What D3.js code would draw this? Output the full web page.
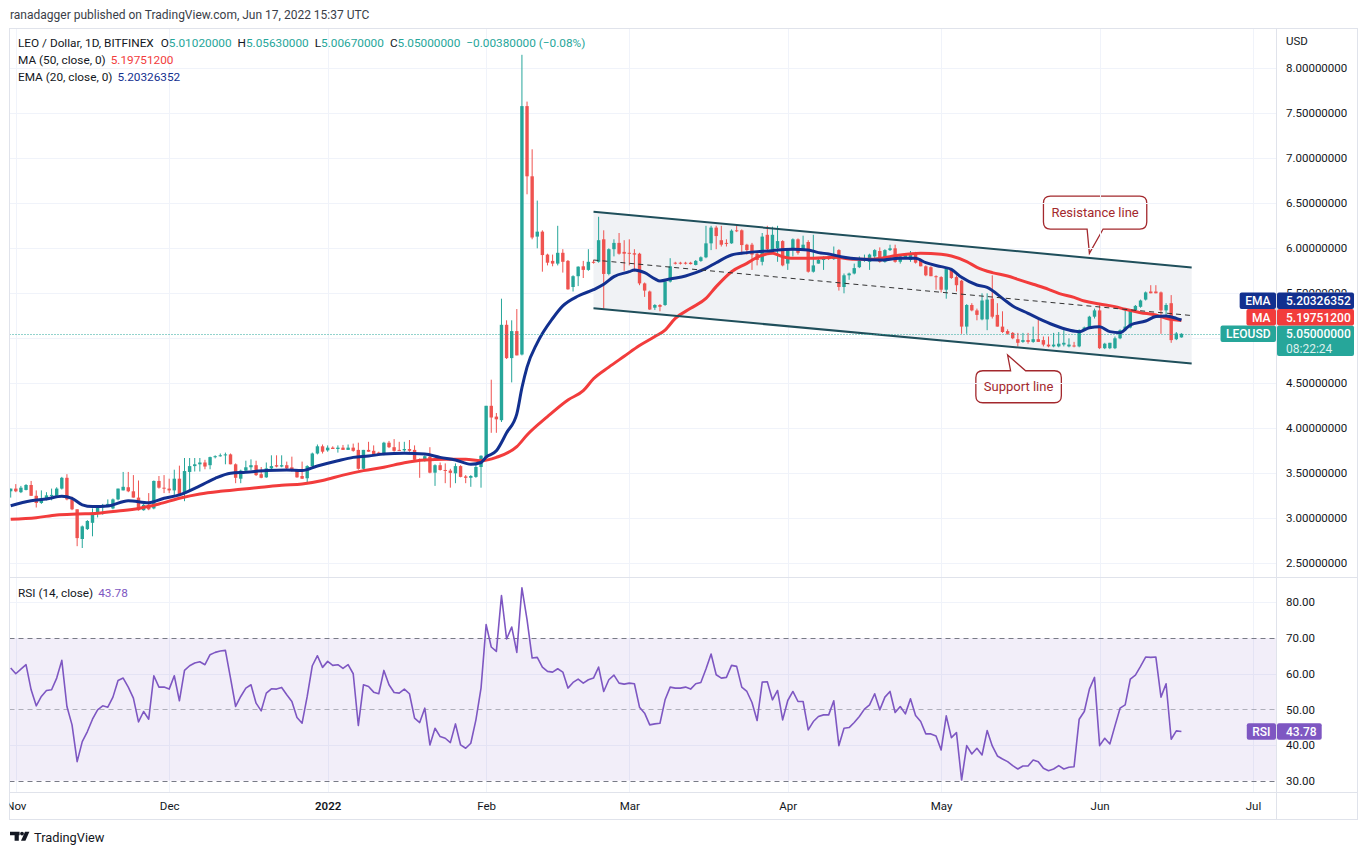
<!DOCTYPE html>
<html><head><meta charset="utf-8">
<script src="https://cdnjs.cloudflare.com/ajax/libs/d3/7.8.5/d3.min.js"></script>
<style>
html,body{margin:0;padding:0;background:#fff;}
svg{display:block;font-family:Roboto,"Noto Sans",sans-serif;}
</style></head><body>
<svg id="c" width="1368" height="855"></svg>
<script>
// ---------------- DATA ----------------
const startDate = "2021-10-31"; // one candle per day through 2022-06-17
const opens = [
3.30,3.33,3.29,3.315,3.37,3.25,3.17,3.21,3.248,3.25,
3.33,3.45,3.21,3.10,2.77,2.88,2.95,3.06,3.12,3.14,
3.11,3.21,3.31,3.345,3.30,3.23,3.09,3.15,3.11,3.415,
3.34,3.33,3.31,3.44,3.27,3.515,3.58,3.60,3.62,3.59,
3.68,3.69,3.70,3.71,3.60,3.44,3.53,3.567,3.59,3.49,
3.455,3.555,3.59,3.575,3.59,3.566,3.535,3.47,3.445,3.58,
3.72,3.80,
3.755,3.785,3.77,3.785,3.76,3.785,3.76,3.55,3.76,3.75,
3.73,3.715,3.84,3.79,3.76,3.755,3.77,3.76,3.655,3.64,
3.685,3.507,3.59,3.537,3.53,3.50,3.58,3.465,3.45,3.46,3.57,
3.68,4.25,4.13,4.09,5.15,4.78,5.08,4.82,7.58,6.80,
6.13,6.185,5.93,5.86,5.83,5.95,5.86,5.57,5.69,
5.80,5.76,5.85,5.85,6.10,5.715,5.99,6.06,5.96,
5.95,5.945,5.94,5.61,5.52,5.34,5.37,5.37,5.63,5.84,
5.84,5.84,5.84,5.815,5.86,5.90,6.055,6.23,6.09,6.06,
6.055,6.20,6.20,6.04,6.04,5.94,5.85,6.15,5.98,6.00,6.08,
5.83,6.00,6.10,5.98,6.07,5.74,5.83,5.87,5.90,5.88,
5.98,5.57,5.70,5.72,5.79,5.86,5.85,5.91,5.97,5.85,
5.98,6.00,5.85,5.89,5.87,5.94,5.87,5.80,5.79,5.69,
5.68,5.54,5.77,5.68,5.64,5.13,5.37,5.31,5.21,5.21,
5.44,5.26,5.13,5.08,5.06,4.99,4.96,4.98,4.96,4.99,
4.98,4.93,4.91,4.91,4.93,4.91,4.92,4.91,5.09,5.12,5.24,
5.31,4.89,4.89,4.89,5.00,5.09,5.12,5.31,5.35,5.43,
5.52,5.52,5.51,5.31,5.39,4.99,5.0102];
const highs = [
3.33,3.38,3.36,3.38,3.415,3.31,3.31,3.29,3.33,3.345,
3.46,3.49,3.24,3.10,2.92,2.98,3.11,3.13,3.16,3.21,
3.22,3.33,3.515,3.515,3.48,3.42,3.16,3.28,3.42,3.47,
3.48,3.44,3.54,3.585,3.67,3.67,3.67,3.67,3.65,3.685,
3.70,3.72,3.73,3.72,3.61,3.54,3.64,3.655,3.64,3.57,
3.62,3.70,3.70,3.70,3.63,3.685,3.545,3.63,3.59,3.73,
3.82,3.82,
3.81,3.80,3.81,3.815,3.82,3.83,3.84,3.76,3.85,3.81,
3.74,3.85,3.86,3.88,3.85,3.85,3.87,3.81,3.665,3.70,
3.79,3.60,3.62,3.61,3.55,3.61,3.59,3.48,3.48,3.59,3.70,
4.25,4.54,4.17,5.44,5.20,5.20,5.325,8.15,7.63,7.10,
6.53,6.20,5.94,5.93,6.25,5.99,5.87,5.70,5.80,
5.86,5.99,5.87,6.35,6.20,6.00,6.10,6.17,6.09,
6.10,5.99,5.95,5.62,5.53,5.38,5.38,5.64,5.89,5.85,
5.85,5.85,5.85,5.87,5.91,6.25,6.25,6.25,6.25,6.10,
6.21,6.25,6.21,6.05,6.06,5.95,6.17,6.25,6.24,6.25,6.09,
6.00,6.11,6.11,6.14,6.09,6.15,5.89,5.91,5.91,6.02,
5.99,5.72,5.73,5.83,5.91,5.93,5.94,5.99,6.01,5.99,
6.04,6.04,5.92,5.94,5.97,5.96,5.89,5.81,5.80,5.70,
5.69,5.78,5.78,5.70,5.65,5.38,5.39,5.33,5.50,5.50,
5.70,5.39,5.30,5.10,5.07,5.06,5.06,5.06,5.13,5.22,
5.02,5.02,5.06,5.07,5.09,5.00,4.96,5.10,5.13,5.25,5.33,
5.39,4.95,4.95,5.02,5.10,5.33,5.32,5.37,5.43,5.52,
5.59,5.59,5.52,5.39,5.48,5.07,5.0563];
const lows = [
3.23,3.29,3.28,3.31,3.25,3.12,3.16,3.20,3.20,3.24,
3.32,3.20,3.09,2.69,2.67,2.87,2.80,3.01,3.04,3.13,
3.10,3.20,3.31,3.29,3.23,3.085,3.085,3.09,3.10,3.33,
3.28,3.28,3.26,3.26,3.19,3.315,3.52,3.52,3.545,3.545,
3.666,3.685,3.60,3.60,3.39,3.39,3.52,3.537,3.47,3.445,
3.45,3.545,3.566,3.567,3.545,3.52,3.45,3.436,3.39,3.57,
3.71,3.72,
3.74,3.77,3.73,3.76,3.76,3.74,3.54,3.54,3.74,3.71,
3.71,3.70,3.78,3.74,3.75,3.74,3.74,3.64,3.45,3.63,
3.50,3.36,3.53,3.39,3.34,3.39,3.455,3.39,3.35,3.45,3.34,
3.67,3.95,3.95,4.07,4.77,4.51,4.81,4.81,6.60,6.10,
6.00,5.74,5.81,5.80,5.81,5.73,5.54,5.52,5.58,
5.67,5.75,5.83,5.84,5.33,5.70,5.91,5.93,5.75,
5.81,5.74,5.59,5.46,5.315,5.315,5.30,5.36,5.62,5.82,
5.82,5.82,5.82,5.81,5.85,5.89,5.98,5.99,6.02,6.02,
6.05,6.18,5.93,5.93,5.76,5.81,5.81,5.98,5.97,5.85,5.80,
5.76,5.91,5.93,5.97,5.73,5.73,5.83,5.76,5.87,5.87,
5.53,5.50,5.65,5.71,5.78,5.85,5.76,5.87,5.84,5.84,
5.97,5.84,5.83,5.89,5.85,5.83,5.80,5.69,5.69,5.54,
5.51,5.44,5.66,5.52,5.05,5.05,5.30,5.20,5.20,5.09,
5.22,5.13,5.06,5.04,4.99,4.91,4.95,4.94,4.95,4.96,
4.91,4.90,4.90,4.90,4.91,4.90,4.90,4.90,5.08,5.11,5.22,
4.88,4.88,4.88,4.88,4.99,5.08,5.11,5.30,5.34,5.42,
5.50,5.50,5.05,5.26,4.95,4.98,5.0067];
const closes = [
3.33,3.30,3.34,3.37,3.25,3.17,3.22,3.255,3.26,3.33,
3.45,3.21,3.10,2.78,2.91,2.97,3.06,3.12,3.14,3.16,
3.21,3.33,3.35,3.30,3.23,3.09,3.15,3.10,3.415,3.34,
3.33,3.31,3.44,3.27,3.525,3.58,3.60,3.62,3.575,3.68,
3.69,3.70,3.71,3.60,3.45,3.53,3.567,3.59,3.48,3.45,
3.555,3.58,3.575,3.59,3.555,3.53,3.455,3.44,3.58,3.72,
3.80,3.74,
3.785,3.77,3.785,3.76,3.785,3.75,3.55,3.76,3.74,3.715,
3.71,3.84,3.79,3.75,3.755,3.77,3.75,3.65,3.645,3.69,
3.507,3.59,3.537,3.53,3.505,3.58,3.46,3.45,3.47,3.57,3.695,
4.25,4.12,4.10,5.15,4.78,5.08,4.81,7.58,6.80,6.12,
6.185,5.925,5.84,5.83,5.95,5.85,5.544,5.69,5.796,
5.76,5.85,5.84,6.09,5.715,5.99,6.06,5.94,5.94,
5.94,5.93,5.61,5.53,5.32,5.37,5.35,5.63,5.80,5.83,
5.83,5.83,5.825,5.86,5.90,6.055,6.23,6.136,6.04,6.05,
6.196,6.19,6.036,5.98,5.93,5.87,6.13,5.99,6.15,6.08,5.81,
6.00,6.10,5.95,6.04,5.74,5.81,5.87,5.90,5.88,5.91,
5.57,5.70,5.72,5.78,5.86,5.89,5.93,5.98,5.85,5.98,
6.00,5.85,5.91,5.93,5.93,5.84,5.80,5.70,5.69,5.68,
5.54,5.77,5.67,5.59,5.13,5.37,5.31,5.26,5.42,5.43,
5.24,5.13,5.07,5.05,5.00,4.95,4.98,4.96,4.99,4.96,
4.93,4.91,4.93,4.94,4.95,4.93,4.91,5.09,5.12,5.24,5.31,
4.89,4.94,4.95,5.00,5.09,5.13,5.31,5.36,5.42,5.51,
5.50,5.50,5.31,5.37,4.98,5.0538,5.05];
const rsiValues = [
61.57,59.98,61.29,62.51,55.48,50.98,53.61,55.29,55.48,58.76,
63.72,50.80,45.64,35.34,40.96,43.77,47.24,49.86,50.98,50.61,
53.42,58.10,58.76,56.23,53.14,46.49,49.39,47.24,59.41,56.23,
56.23,55.67,59.41,52.39,60.91,62.22,62.97,63.35,62.51,65.32,
65.97,66.35,66.53,58.76,50.80,53.61,55.95,56.88,51.73,49.58,
54.54,55.76,55.67,56.14,54.07,52.20,47.70,46.11,53.61,62.22,
65.03,61.76,63.44,62.32,62.51,61.48,62.51,59.98,45.46,56.88,
56.42,54.82,54.36,60.91,56.88,54.73,54.54,55.67,54.36,47.52,
46.30,50.33,40.02,44.71,42.36,41.90,40.68,45.92,40.02,39.09,
40.49,47.05,55.95,73.75,67.47,66.25,81.90,69.72,73.09,65.97,
84.05,75.15,64.38,64.57,61.85,60.63,60.44,61.38,60.44,55.95,
57.54,58.48,57.35,58.29,58.76,61.85,55.01,58.29,59.60,57.35,
57.07,
57.35,57.17,50.61,48.92,45.64,45.92,46.11,52.67,56.23,55.95,55.95,56.23,55.67,57.17,57.54,61.29,65.50,59.70,58.76,58.95,62.32,62.04,56.23,55.01,51.92,46.86,57.63,57.73,52.67,55.29,47.05,
52.48,55.01,52.20,52.20,44.24,46.58,47.99,48.45,48.45,52.39,39.84,44.71,44.89,46.30,47.99,50.05,51.26,54.36,49.86,53.42,55.01,49.11,50.80,48.73,52.95,48.27,46.58,43.11,43.11,42.55,
38.62,48.17,42.08,43.49,30.19,39.84,37.49,39.09,37.21,44.05,39.74,36.93,36.09,35.34,34.21,33.28,34.12,34.12,35.81,35.34,33.47,32.81,33.28,34.21,33.28,33.75,33.93,47.24,49.39,55.67,58.95,
39.84,41.90,40.30,45.36,50.33,51.26,58.48,59.60,62.04,64.66,64.57,64.66,53.42,57.17,41.62,43.96,43.78];

const emaDates = ["2021-10-31","2021-11-04","2021-11-07","2021-11-10","2021-11-12","2021-11-14","2021-11-16","2021-11-19","2021-11-23","2021-11-27","2021-11-30","2021-12-03","2021-12-07","2021-12-10","2021-12-13","2021-12-16","2021-12-20","2021-12-24","2021-12-27","2021-12-30","2022-01-03","2022-01-06","2022-01-09","2022-01-12","2022-01-16","2022-01-20","2022-01-23","2022-01-26","2022-01-29","2022-01-31","2022-02-01","2022-02-03","2022-02-05","2022-02-07","2022-02-08","2022-02-09","2022-02-11","2022-02-14","2022-02-16","2022-02-19","2022-02-22","2022-02-24","2022-02-26","2022-03-01","2022-03-02","2022-03-04","2022-03-06","2022-03-07","2022-03-09","2022-03-12","2022-03-14","2022-03-16","2022-03-18","2022-03-21","2022-03-24","2022-03-26","2022-03-29","2022-03-30","2022-04-02","2022-04-05","2022-04-07","2022-04-09","2022-04-12","2022-04-15","2022-04-19","2022-04-23","2022-04-26","2022-04-28","2022-05-01","2022-05-03","2022-05-05","2022-05-08","2022-05-10","2022-05-13","2022-05-15","2022-05-18","2022-05-20","2022-05-23","2022-05-26","2022-05-28","2022-05-30","2022-06-01","2022-06-03","2022-06-05","2022-06-07","2022-06-10","2022-06-12","2022-06-14","2022-06-16","2022-06-17"];
const emaValues = [3.14,3.196,3.215,3.245,3.222,3.15,3.13,3.137,3.196,3.174,3.222,3.26,3.36,3.444,3.50,3.511,3.53,3.537,3.53,3.581,3.64,3.677,3.692,3.714,3.722,3.714,3.677,3.648,3.60,3.62,3.68,3.75,3.95,4.16,4.45,4.68,4.95,5.22,5.36,5.47,5.54,5.60,5.685,5.74,5.759,5.729,5.66,5.637,5.66,5.692,5.729,5.777,5.84,5.926,5.952,5.963,5.974,5.981,5.989,5.981,5.952,5.937,5.90,5.88,5.87,5.889,5.889,5.84,5.796,5.766,5.677,5.592,5.566,5.444,5.359,5.278,5.222,5.148,5.092,5.074,5.118,5.129,5.074,5.063,5.148,5.192,5.241,5.248,5.222,5.2033];

const maDates = ["2021-10-31","2021-11-05","2021-11-09","2021-11-13","2021-11-17","2021-11-21","2021-11-25","2021-11-29","2021-12-03","2021-12-07","2021-12-11","2021-12-15","2021-12-19","2021-12-23","2021-12-27","2021-12-31","2022-01-04","2022-01-08","2022-01-12","2022-01-16","2022-01-20","2022-01-24","2022-01-28","2022-01-31","2022-02-03","2022-02-07","2022-02-09","2022-02-13","2022-02-17","2022-02-20","2022-02-22","2022-02-25","2022-02-28","2022-03-03","2022-03-06","2022-03-08","2022-03-10","2022-03-13","2022-03-16","2022-03-18","2022-03-21","2022-03-24","2022-03-26","2022-03-29","2022-03-31","2022-04-02","2022-04-06","2022-04-10","2022-04-14","2022-04-17","2022-04-19","2022-04-23","2022-04-27","2022-05-01","2022-05-03","2022-05-06","2022-05-08","2022-05-11","2022-05-14","2022-05-16","2022-05-19","2022-05-22","2022-05-24","2022-05-27","2022-05-29","2022-06-01","2022-06-04","2022-06-06","2022-06-09","2022-06-12","2022-06-14","2022-06-17"];
const maValues = [2.989,3.007,3.037,3.048,3.056,3.081,3.11,3.159,3.222,3.27,3.30,3.322,3.344,3.367,3.381,3.42,3.48,3.53,3.567,3.618,3.648,3.655,3.655,3.64,3.677,3.796,3.926,4.13,4.315,4.418,4.55,4.68,4.80,4.92,5.02,5.092,5.222,5.333,5.444,5.574,5.74,5.833,5.90,5.944,5.907,5.889,5.889,5.90,5.878,5.877,5.889,5.926,5.944,5.933,5.915,5.852,5.789,5.73,5.692,5.655,5.60,5.544,5.50,5.455,5.414,5.381,5.352,5.322,5.285,5.259,5.222,5.1975];

const priceTicks = [2.5,3,3.5,4,4.5,5,5.5,6,6.5,7,7.5,8];
const rsiTicks = [30,40,50,60,70,80];
const rsiBands = [70,50,30];

const channelDates = ["2022-02-22","2022-06-19"];
const channelUpper = [6.407,5.787];
const channelLower = [5.333,4.720];
const channelMid = [5.870,5.253];

const lastPrice = 5.05, lastMA = 5.19751200, lastEMA = 5.20326352, lastRSI = 43.78;
const callouts = [
  {text:"Resistance line", tipDate:"2022-05-30", tipPrice:5.944, side:"bottom"},
  {text:"Support line", tipDate:"2022-05-14", tipPrice:4.814, side:"top"}
];

// ---------------- LAYOUT ----------------
const L = 9.5, R = 1357.5, AX = 1276.5, T = 28.5, MB = 577.5, RB = 792.5, TB = 819.5;
const C = {up:"#26a69a", down:"#ef5350", ema:"#12308f", ma:"#f23c3c", text:"#131722",
  grid:"#f0f3fa", frame:"#e0e3eb", rsi:"#7e57c2", chan:"#1f4f5b", chanFill:"#f0f2f5", note:"#a3282d"};

const parse = d3.utcParse("%Y-%m-%d");
const svg = d3.select("#c");
const x = d3.scaleUtc().domain([parse("2021-11-01"), parse("2022-07-01")]).range([15.8, 1253]);
const y = d3.scaleLinear().domain([2.5, 8]).range([563.3, 68.3]);
const yr = d3.scaleLinear().domain([30, 80]).range([780.7, 602.3]);

const start = parse(startDate);
const candles = closes.map((c, i) => ({date: d3.utcDay.offset(start, i), o: opens[i], h: highs[i], l: lows[i], c}));
const rsi = rsiValues.map((v, i) => ({date: d3.utcDay.offset(start, i), v}));
const ema = emaDates.map((d, i) => ({date: parse(d), v: emaValues[i]}));
const ma = maDates.map((d, i) => ({date: parse(d), v: maValues[i]}));

const defs = svg.append("defs");
defs.append("clipPath").attr("id","cm").append("rect").attr("x",L).attr("y",T).attr("width",AX-L).attr("height",MB-T);
defs.append("clipPath").attr("id","cr").append("rect").attr("x",L).attr("y",MB).attr("width",AX-L).attr("height",RB-MB);
defs.append("clipPath").attr("id","ct").append("rect").attr("x",L).attr("y",RB).attr("width",AX-L).attr("height",TB-RB);

// header
svg.append("text").attr("x",10).attr("y",19).attr("font-size",12).attr("fill","#3a3e48")
  .text("ranadagger published on TradingView.com, Jun 17, 2022 15:37 UTC");

// grids
const months = x.ticks(d3.utcMonth.every(1));
const grid = svg.append("g");
grid.selectAll(".vg").data(months).join("line")
  .attr("x1", d => Math.round(x(d)) + 0.5).attr("x2", d => Math.round(x(d)) + 0.5)
  .attr("y1", T).attr("y2", RB).attr("stroke", C.grid);
grid.selectAll(".hg").data(priceTicks).join("line")
  .attr("x1", L).attr("x2", AX).attr("y1", d => Math.round(y(d)) + 0.5).attr("y2", d => Math.round(y(d)) + 0.5)
  .attr("stroke", C.grid);
grid.selectAll(".rg").data([40,60,80]).join("line")
  .attr("x1", L).attr("x2", AX).attr("y1", d => Math.round(yr(d)) + 0.5).attr("y2", d => Math.round(yr(d)) + 0.5)
  .attr("stroke", C.grid);

// main pane
const main = svg.append("g").attr("clip-path","url(#cm)");
const cd = channelDates.map(parse);
main.append("path")
  .attr("d", d3.area().x(d => x(d.d)).y0(d => y(d.lo)).y1(d => y(d.hi))(cd.map((d,i)=>({d, lo:channelLower[i], hi:channelUpper[i]}))))
  .attr("fill", C.chanFill);

const bw = 3.4;
const cg = main.append("g");
cg.selectAll("line").data(candles).join("line")
  .attr("x1", d => x(d.date)).attr("x2", d => x(d.date))
  .attr("y1", d => y(Math.max(d.h, d.o, d.c))).attr("y2", d => y(Math.min(d.l, d.o, d.c)))
  .attr("stroke", d => d.c >= d.o ? C.up : C.down).attr("stroke-width", 1);
cg.selectAll("rect").data(candles).join("rect")
  .attr("x", d => x(d.date) - bw/2).attr("width", bw)
  .attr("y", d => y(Math.max(d.o, d.c)))
  .attr("height", d => Math.max(1, Math.abs(y(d.o) - y(d.c))))
  .attr("fill", d => d.c >= d.o ? C.up : C.down);

const lineGen = d3.line().x(d => x(d.date)).y(d => y(d.v)).curve(d3.curveMonotoneX);
main.append("path").attr("d", lineGen(ma)).attr("fill","none").attr("stroke",C.ma).attr("stroke-width",3).attr("stroke-linejoin","round");
main.append("path").attr("d", lineGen(ema)).attr("fill","none").attr("stroke",C.ema).attr("stroke-width",3).attr("stroke-linejoin","round");

const chanLine = vals => d3.line().x(d => x(d.d)).y(d => y(d.v))(cd.map((d,i)=>({d, v: vals[i]})));
main.append("path").attr("d", chanLine(channelUpper)).attr("stroke",C.chan).attr("stroke-width",2).attr("fill","none");
main.append("path").attr("d", chanLine(channelLower)).attr("stroke",C.chan).attr("stroke-width",2).attr("fill","none");
main.append("path").attr("d", chanLine(channelMid)).attr("stroke","#333").attr("stroke-width",1).attr("stroke-dasharray","5,4").attr("fill","none");

main.append("line").attr("x1",L).attr("x2",AX).attr("y1",Math.round(y(lastPrice))+0.5).attr("y2",Math.round(y(lastPrice))+0.5)
  .attr("stroke",C.up).attr("stroke-dasharray","1,2");

// callouts
callouts.forEach(co => {
  const tx = x(parse(co.tipDate)), ty = y(co.tipPrice);
  const t = svg.append("text").attr("font-size",13).attr("fill",C.note).attr("text-anchor","middle").text(co.text);
  const tw = t.node().getComputedTextLength();
  const w = tw + 16, h = co.side === "bottom" ? 33 : 32, r = 7;
  let cx, cy;
  if (co.side === "bottom") { cx = tx + 5.7; cy = ty - 40.8; } else { cx = tx + 11; cy = ty + 31.7; }
  const x0 = cx - w/2, x1 = cx + w/2, y0 = cy - h/2, y1 = cy + h/2;
  let p;
  if (co.side === "bottom") {
    p = `M${x0+r},${y0}H${x1-r}Q${x1},${y0} ${x1},${y0+r}V${y1-r}Q${x1},${y1} ${x1-r},${y1}H${cx+8}L${tx},${ty}L${cx-8},${y1}H${x0+r}Q${x0},${y1} ${x0},${y1-r}V${y0+r}Q${x0},${y0} ${x0+r},${y0}Z`;
  } else {
    p = `M${x0+r},${y0}H${cx-8}L${tx},${ty}L${cx+7},${y0}H${x1-r}Q${x1},${y0} ${x1},${y0+r}V${y1-r}Q${x1},${y1} ${x1-r},${y1}H${x0+r}Q${x0},${y1} ${x0},${y1-r}V${y0+r}Q${x0},${y0} ${x0+r},${y0}Z`;
  }
  svg.insert("path","text").attr("d",p).attr("fill","#fff").attr("stroke",C.note).attr("stroke-width",1.3);
  t.attr("x",cx).attr("y",cy+4.5).raise();
});

// RSI pane
const rp = svg.append("g").attr("clip-path","url(#cr)");
rp.append("rect").attr("x",L).attr("width",AX-L).attr("y",yr(70)).attr("height",yr(30)-yr(70)).attr("fill","rgba(126,87,194,0.1)");
rp.selectAll(".band").data(rsiBands).join("line")
  .attr("x1",L).attr("x2",AX).attr("y1",d => Math.round(yr(d))+0.5).attr("y2",d => Math.round(yr(d))+0.5)
  .attr("stroke", d => d === 50 ? "rgba(120,123,134,0.55)" : "#787b86").attr("stroke-dasharray","5,4");
rp.append("path").attr("d", d3.line().x(d => x(d.date)).y(d => yr(d.v))(rsi))
  .attr("fill","none").attr("stroke",C.rsi).attr("stroke-width",1.6).attr("stroke-linejoin","round");

// frame
const fr = svg.append("g").attr("stroke",C.frame).attr("fill","none");
fr.append("rect").attr("x",L).attr("y",T).attr("width",R-L).attr("height",TB-T);
fr.append("line").attr("x1",L).attr("x2",R).attr("y1",MB).attr("y2",MB);
fr.append("line").attr("x1",L).attr("x2",R).attr("y1",RB).attr("y2",RB);
fr.append("line").attr("x1",AX).attr("x2",AX).attr("y1",T).attr("y2",TB);

// right-axis tags geometry (price tags stacked above the last-price tag)
const cyP = y(lastPrice);
const tagTop = cyP - 33 - 8.25, tagBottom = cyP - 8.25 + 30.5;
// price-axis labels are hidden where the tags cover them, as in the reference
defs.append("clipPath").attr("id","cpa").append("path")
  .attr("d", `M${AX},${T}H${R}V${tagTop}H${AX}Z M${AX},${tagBottom}H${R}V${MB}H${AX}Z`);

// axes
const pAxis = svg.append("g").attr("clip-path","url(#cpa)").append("g").attr("transform",`translate(${AX},0)`)
  .call(d3.axisRight(y).tickValues(priceTicks).tickFormat(d3.format(".8f")).tickSize(0).tickPadding(9.5));
const rAxis = svg.append("g").attr("transform",`translate(${AX},0)`)
  .call(d3.axisRight(yr).tickValues(rsiTicks).tickFormat(d3.format(".2f")).tickSize(0).tickPadding(9.5));
const tAxis = svg.append("g").attr("clip-path","url(#ct)").append("g").attr("transform",`translate(0,${RB})`)
  .call(d3.axisBottom(x).ticks(d3.utcMonth.every(1))
    .tickFormat(d => d.getUTCMonth() === 0 ? String(d.getUTCFullYear()) : d3.utcFormat("%b")(d))
    .tickSize(0).tickPadding(9));
[pAxis, rAxis, tAxis].forEach(a => {
  a.select(".domain").remove();
  a.selectAll("text").attr("fill",C.text).attr("font-size",11.5).attr("font-family","Roboto,sans-serif");
});
// the 5.00 label sits entirely under the last-price tag in the reference
pAxis.selectAll(".tick").filter(d => y(d) > tagTop + 6 && y(d) < tagBottom).remove();
tAxis.selectAll("text").filter(d => d.getUTCMonth() === 0).attr("font-weight",600);
svg.append("text").attr("x",AX+9.5).attr("y",45).attr("font-size",11.5).attr("fill",C.text).text("USD");

// legends
const FS = 11.8;
const leg = svg.append("text").attr("x",18).attr("y",46.5).attr("font-size",FS).attr("fill",C.text);
leg.append("tspan").text("LEO / Dollar, 1D, BITFINEX");
const last = candles[candles.length-1];
const f8 = d3.format(".8f");
const chg = last.c - 5.0538;
[["O", last.o],["H", last.h],["L", last.l],["C", last.c]].forEach(([k,v], i) => {
  leg.append("tspan").attr("dx", i === 0 ? 7 : 6).text(k);
  leg.append("tspan").attr("fill",C.up).text(f8(v));
});
leg.append("tspan").attr("dx",6).attr("fill",C.up).text("\u2212" + f8(Math.abs(chg)) + " (\u2212" + (Math.abs(chg)/5.0538*100).toFixed(2) + "%)");

const maT = svg.append("text").attr("x",18).attr("y",63.5).attr("font-size",FS).attr("fill",C.text);
maT.append("tspan").text("MA (50, close, 0)");
maT.append("tspan").attr("dx",5).attr("fill",C.ma).text(f8(lastMA));
const emaT = svg.append("text").attr("x",18).attr("y",80.5).attr("font-size",FS).attr("fill",C.text);
emaT.append("tspan").text("EMA (20, close, 0)");
emaT.append("tspan").attr("dx",5).attr("fill",C.ema).text(f8(lastEMA));
const rsiT = svg.append("text").attr("x",18).attr("y",596.5).attr("font-size",FS).attr("fill",C.text);
rsiT.append("tspan").text("RSI (14, close)");
rsiT.append("tspan").attr("dx",5).attr("fill",C.rsi).text(lastRSI.toFixed(2));

// right-axis labels
function tag(cy, label, value, color, h, sub, valRight) {
  const g = svg.append("g");
  const vx1 = valRight || (R - 3.5);
  const vt = g.append("text").attr("x",AX+9.5).attr("font-size",12).attr("font-weight",500).attr("fill","#fff").text(value);
  const lt = g.append("text").attr("x",AX-6).attr("text-anchor","end").attr("font-size",12).attr("font-weight",500).attr("fill","#fff").text(label);
  const lw = lt.node().getComputedTextLength();
  const top = cy - 8.25;
  g.insert("rect","text").attr("x",AX-11.5-lw).attr("y",top).attr("width",lw+11).attr("height",16.5).attr("rx",2).attr("fill",color);
  g.insert("rect","text").attr("x",AX+0.5).attr("y",top).attr("width",vx1-AX-0.5).attr("height",h).attr("rx",2).attr("fill",color);
  vt.attr("y", cy + 4.3);
  lt.attr("y", cy + 4.3);
  if (sub) g.append("text").attr("x",AX+9.5).attr("y",cy+19.5).attr("font-size",12).attr("fill","rgba(255,255,255,0.85)").text(sub);
}
tag(cyP, "LEOUSD", f8(lastPrice), C.up, 30.5, "08:22:24");
tag(cyP - 16.5, "MA", f8(lastMA), C.ma, 16.5);
tag(cyP - 33, "EMA", f8(lastEMA), C.ema, 16.5);
tag(yr(lastRSI), "RSI", lastRSI.toFixed(2), C.rsi, 16.5, null, 1321.7);

// footer logo
const logo = svg.append("g").attr("fill","#131722");
logo.append("path").attr("d","M10,831.7H19.6V835.2H18.8V840.8H14.6V835.2H10Z");
logo.append("circle").attr("cx",22).attr("cy",833.6).attr("r",1.9);
logo.append("path").attr("d","M25,831.7H29.4L25.4,840.8H21Z");
svg.append("text").attr("x",34).attr("y",841.5).attr("font-size",12.8).attr("fill","#131722").text("TradingView");
</script>
</body></html>
